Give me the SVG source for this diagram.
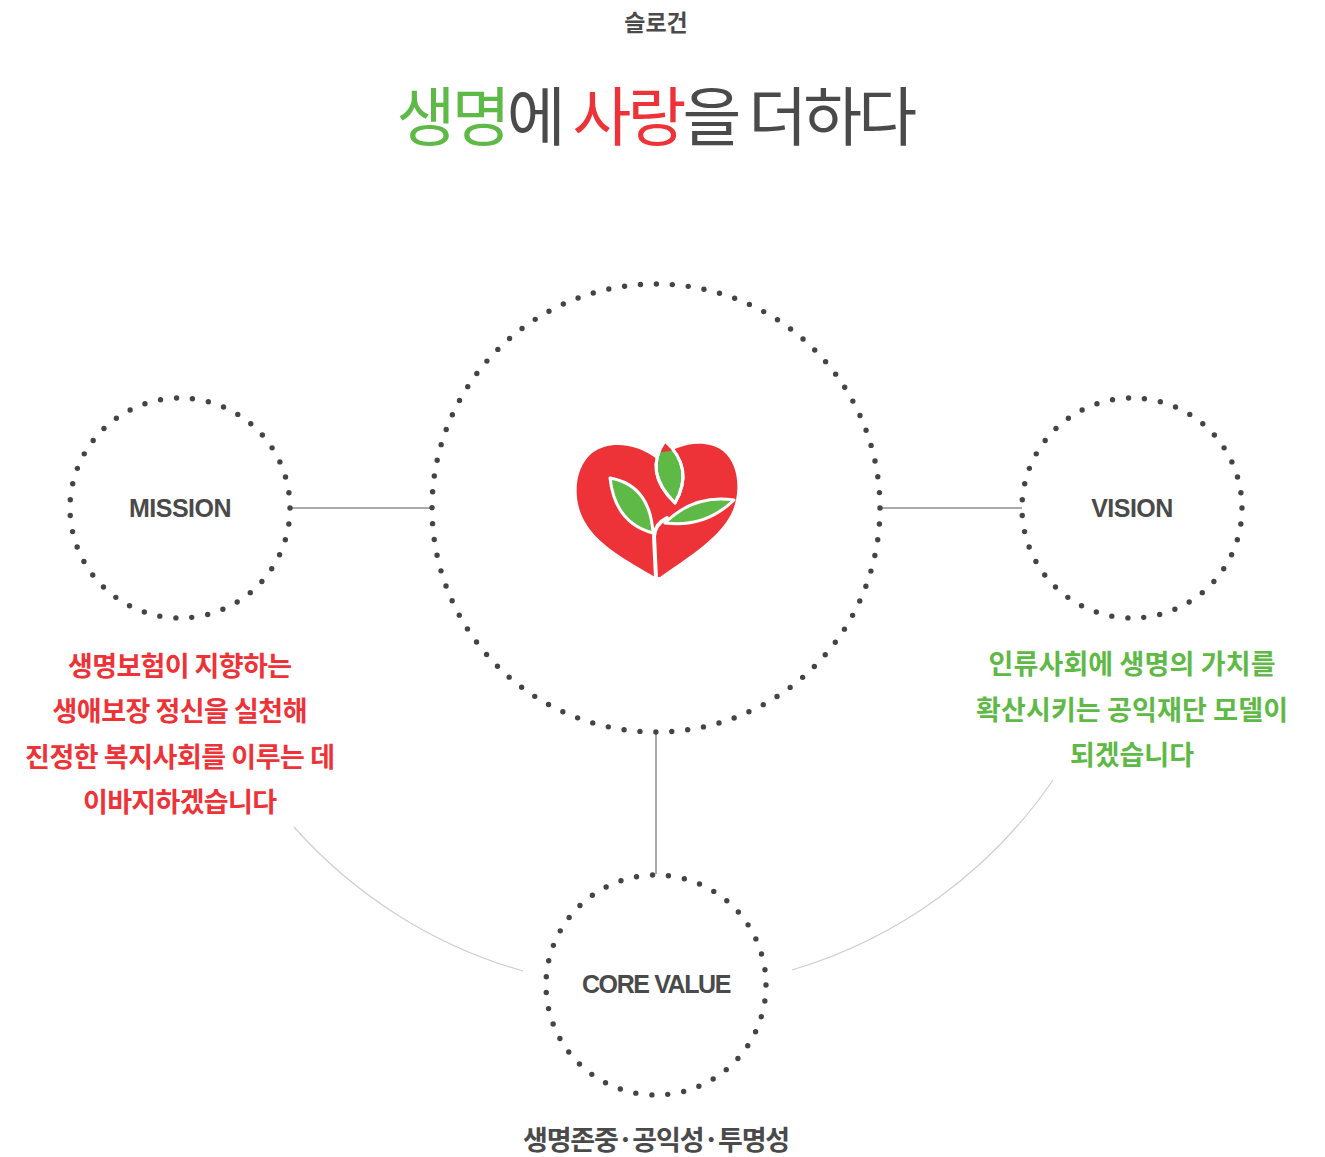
<svg xmlns="http://www.w3.org/2000/svg" width="1325" height="1157" viewBox="0 0 1325 1157">
  <style>
    .ring{fill:none;stroke:#444;stroke-width:5.4;stroke-linecap:round}
    .link{stroke:#555;stroke-width:1;fill:none}
    .arc{stroke:#cfcfcf;stroke-width:1.2;fill:none}
    .kr{font-family:"Noto Sans CJK KR","Noto Sans CJK SC",sans-serif}
    .lbl{font-family:"Liberation Sans",Arial,sans-serif;font-weight:700;font-size:25px;fill:#4a4a4a;text-anchor:middle}
    .red{fill:#ee3338}
    .grn{fill:#5fb946}
    .gry{fill:#4a4a4a}
    .leaf{fill:#5fb946;stroke:#fff;stroke-width:3;stroke-linejoin:round}
  </style>
  <defs>
    <clipPath id="topLeafClip">
      <path d="M 665 441 Q 643 472 675 503 Q 695 468 665 441 Z"/>
    </clipPath>
  </defs>
  <rect width="1325" height="1157" fill="#fff"/>

  <g id="title">
    <text class="kr gry" x="656" y="31" font-size="23" font-weight="700" text-anchor="middle">슬로건</text>
    <text class="kr" x="655" y="140" font-size="64" font-weight="400" text-anchor="middle" letter-spacing="-3.8"><tspan class="grn">생명</tspan><tspan class="gry">에 </tspan><tspan class="red">사랑</tspan><tspan class="gry">을 더하다</tspan></text>
  </g>

  <g id="connectors">
    <line class="link" x1="290" y1="508" x2="432" y2="508"/>
    <line class="link" x1="880" y1="508" x2="1022" y2="508"/>
    <line class="link" x1="656" y1="732" x2="656" y2="874"/>
    <path class="arc" d="M 294 827 A 482 482 0 0 0 523 971"/>
    <path class="arc" d="M 792 970 A 482 482 0 0 0 1053 780"/>
  </g>

  <g id="center">
    <circle class="ring" cx="656" cy="508" r="224" stroke-dasharray="0 15.993"/>
    <g id="logo">
      <path class="red" d="M 655 577 C 626 560 598 545 585 522 C 572 500 574 468 592 453 C 609 440 638 443 658 460 C 676 443 706 438 723 451 C 740 465 740 493 733 510 C 722 537 688 557 660 577 Z"/>
      <path class="leaf" d="M 665 441 Q 643 472 675 503 Q 695 468 665 441 Z"/>
      <polygon class="red" clip-path="url(#topLeafClip)" points="640,430 700,430 700,446 640,456"/>
      <path d="M 665 441 Q 643 472 675 503 Q 695 468 665 441 Z" fill="none" stroke="#fff" stroke-width="3" stroke-linejoin="round"/>
      <path class="leaf" d="M 610 478 Q 650 485 653 533 Q 615 523 610 478 Z"/>
      <path d="M 656 578 L 654 536 Q 655 524 667 518" fill="none" stroke="#fff" stroke-width="4" stroke-linecap="round"/>
      <path class="leaf" d="M 665 523 Q 694 494 734 500 Q 705 528 665 523 Z"/>
    </g>
  </g>

  <g id="mission">
    <circle class="ring" cx="180" cy="508" r="110" stroke-dasharray="0 16.073"/>
    <text class="lbl" x="180" y="517" letter-spacing="-0.5">MISSION</text>
    <g class="kr red" font-size="27" font-weight="700" text-anchor="middle">
      <text x="180" y="676" textLength="224" lengthAdjust="spacing">생명보험이 지향하는</text>
      <text x="180" y="721" textLength="255" lengthAdjust="spacing">생애보장 정신을 실천해</text>
      <text x="180" y="767" textLength="310" lengthAdjust="spacing">진정한 복지사회를 이루는 데</text>
      <text x="180" y="812" textLength="194" lengthAdjust="spacing">이바지하겠습니다</text>
    </g>
  </g>

  <g id="vision">
    <circle class="ring" cx="1132" cy="508" r="110" stroke-dasharray="0 16.073"/>
    <text class="lbl" x="1132" y="517" letter-spacing="-0.5">VISION</text>
    <g class="kr grn" font-size="27" font-weight="700" text-anchor="middle">
      <text x="1132" y="674" textLength="287" lengthAdjust="spacing">인류사회에 생명의 가치를</text>
      <text x="1132" y="720" textLength="312" lengthAdjust="spacing">확산시키는 공익재단 모델이</text>
      <text x="1132" y="765" textLength="124" lengthAdjust="spacing">되겠습니다</text>
    </g>
  </g>

  <g id="corevalue">
    <circle class="ring" cx="656" cy="985" r="110" stroke-dasharray="0 16.073"/>
    <text class="lbl" x="656" y="993" letter-spacing="-1.4">CORE VALUE</text>
    <text class="kr gry" x="656" y="1150" font-size="27" font-weight="700" text-anchor="middle" letter-spacing="-1.2">생명존중·공익성·투명성</text>
  </g>
</svg>
